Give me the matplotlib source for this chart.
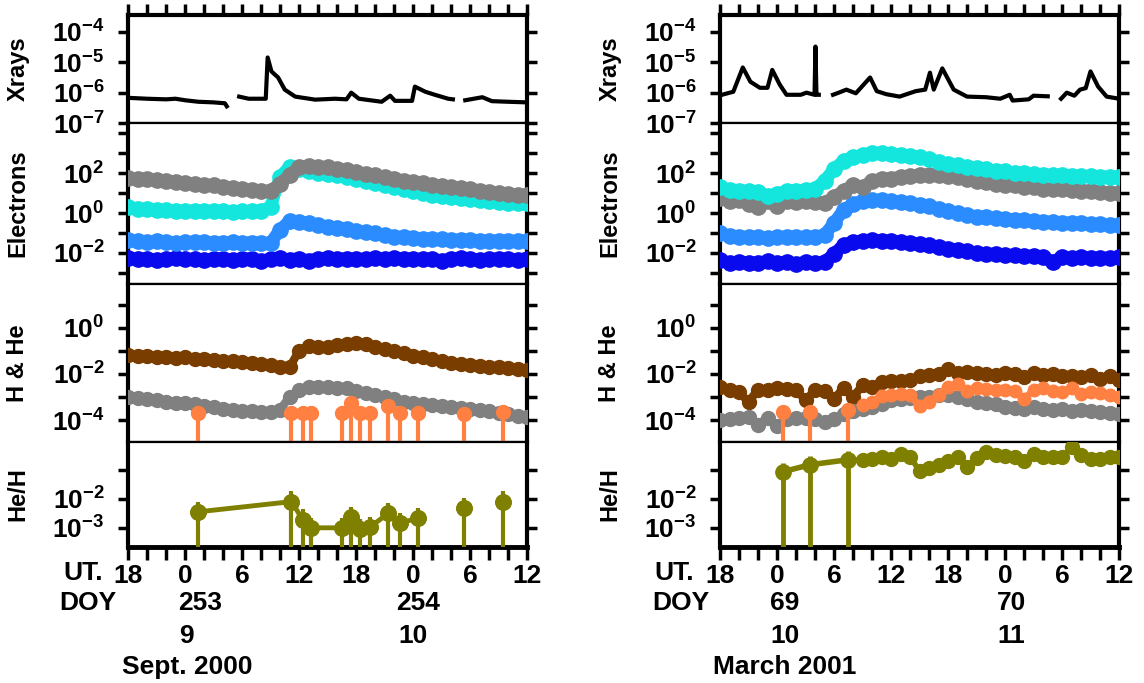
import numpy as np
import matplotlib
matplotlib.use("Agg")
import matplotlib.pyplot as plt
import matplotlib.transforms as mtrans

plt.rcParams['font.family'] = ['Liberation Sans', 'DejaVu Sans']
plt.rcParams['font.weight'] = 'bold'
plt.rcParams['mathtext.fontset'] = 'custom'
plt.rcParams['mathtext.rm'] = 'Liberation Sans:bold'
plt.rcParams['mathtext.it'] = 'Liberation Sans:bold'
plt.rcParams['mathtext.bf'] = 'Liberation Sans:bold'

# time axis: hours from 0 UT of the first DOY (18 UT previous day = -6)
HOURS = np.arange(-6, 37)

# ---------------- Sept. 2000 (left) ----------------
xr_L_t = [-6, -4, -2, -1, 0, 1.4, 3, 4.2, 4.4, np.nan, 5.7, 6.7, 8.5, 8.7, 9.1, 9.8, 10.5, 11.6, 13.7, 15.8,
          17.0, 17.5, 18.3, 20.7, 21.6, 22.1, 23.9, 24.2, 25.3, 26.3, 27.7, 28.2, np.nan, 29.5, 31.3, 32.3, 34, 36]
xr_L_v = [-6.17, -6.2, -6.22, -6.2, -6.25, -6.3, -6.32, -6.35, -6.45, np.nan, -6.13, -6.2, -6.2, -4.84, -5.3, -5.5,
          -5.9, -6.13, -6.23, -6.2, -6.22, -6.0, -6.2, -6.3, -6.1, -6.27, -6.27, -5.8, -5.97, -6.07, -6.2, -6.22,
          np.nan, -6.25, -6.15, -6.28, -6.3, -6.32]

el_gray_L = [1.75, 1.7, 1.72, 1.65, 1.62, 1.55, 1.52, 1.45, 1.42, 1.38, 1.3, 1.27, 1.2, 1.15, 1.08, 1.12, 1.45,
             1.9, 2.28, 2.35, 2.3, 2.28, 2.22, 2.15, 2.05, 1.97, 1.88, 1.8, 1.72, 1.62, 1.55, 1.48, 1.42, 1.36,
             1.3, 1.25, 1.2, 1.12, 1.06, 1.0, 0.95, 0.9, 0.92]
el_cyan_L = [0.3, 0.22, 0.18, 0.16, 0.13, 0.12, 0.1, 0.12, 0.1, 0.1, 0.08, 0.06, 0.08, 0.1, 0.1, 0.3, 1.8, 2.3,
             2.2, 2.1, 2.0, 1.95, 1.88, 1.8, 1.7, 1.6, 1.5, 1.4, 1.3, 1.2, 1.1, 1.0, 0.92, 0.86, 0.8, 0.75, 0.7,
             0.65, 0.6, 0.55, 0.5, 0.48, 0.52]
el_dblue_L = [-1.35, -1.42, -1.45, -1.42, -1.45, -1.48, -1.45, -1.47, -1.45, -1.5, -1.48, -1.47, -1.5, -1.48,
              -1.5, -1.5, -0.85, -0.4, -0.45, -0.52, -0.6, -0.68, -0.75, -0.8, -0.88, -0.95, -1.02, -1.1, -1.18,
              -1.22, -1.25, -1.28, -1.3, -1.32, -1.33, -1.35, -1.35, -1.38, -1.4, -1.38, -1.4, -1.4, -1.38]
el_blue_L = [-2.25, -2.3, -2.28, -2.35, -2.3, -2.27, -2.32, -2.3, -2.35, -2.28, -2.3, -2.36, -2.3, -2.28, -2.4,
             -2.3, -2.27, -2.33, -2.28, -2.38, -2.3, -2.25, -2.3, -2.28, -2.32, -2.3, -2.27, -2.3, -2.25, -2.3,
             -2.28, -2.32, -2.3, -2.38, -2.3, -2.27, -2.3, -2.35, -2.3, -2.28, -2.3, -2.33, -2.28]

h_brown_L = [-1.17, -1.22, -1.2, -1.25, -1.27, -1.3, -1.28, -1.33, -1.35, -1.4, -1.42, -1.45, -1.5, -1.52, -1.55,
             -1.62, -1.7, -1.72, -1.0, -0.78, -0.85, -0.82, -0.75, -0.68, -0.65, -0.72, -0.82, -0.92, -1.0, -1.1,
             -1.2, -1.25, -1.35, -1.45, -1.52, -1.58, -1.62, -1.65, -1.68, -1.72, -1.75, -1.8, -1.85]
h_gray_L = [-3.0, -3.05, -3.1, -3.15, -3.2, -3.25, -3.28, -3.32, -3.4, -3.45, -3.52, -3.55, -3.6, -3.62, -3.65,
            -3.65, -3.55, -3.0, -2.7, -2.56, -2.55, -2.58, -2.6, -2.62, -2.72, -2.82, -2.92, -3.0, -3.1, -3.2,
            -3.27, -3.3, -3.35, -3.4, -3.45, -3.48, -3.52, -3.58, -3.62, -3.68, -3.75, -3.82, -3.88]
he_L_t = [1.4, 11.2, 12.4, 13.3, 16.5, 17.5, 18.4, 19.5, 21.4, 22.6, 24.5, 29.4, 33.5]
he_L_v = [-3.7, -3.7, -3.7, -3.7, -3.7, -3.26, -3.7, -3.7, -3.4, -3.7, -3.7, -3.75, -3.65]
ratio_L_v = [-2.45, -2.1, -2.72, -3.0, -3.0, -2.62, -3.05, -2.97, -2.5, -2.85, -2.66, -2.32, -2.1]
ratio_L_seg = [0, 0, 0, 0, 0, 0, 0, 0, 0, 0, 0, 1, 2]

# ---------------- March 2001 (right) ----------------
xr_R_t = [-6, -5.8, -4.6, -3.6, -2.8, -1.8, -1.0, -0.5, 0.3, 1.0, 2.5, 3.1, 3.95, 4.05, 4.15, 4.4, np.nan, 5.9,
          6.5, 7.3, 8.3, 9.8, 10.5, 11.5, 12.9, 14.6, 15.6, 16.1, 16.5, 17.4, 18.6, 20, 22, 23.5, 24.5, 24.8,
          26.5, 27, 28.5, np.nan, 29.9, 30.5, 31.3, 31.9, 32.5, 33.0, 33.8, 34.7, 36]
xr_R_v = [-6.1, -6.07, -5.97, -5.17, -5.64, -5.84, -5.84, -5.25, -5.74, -6.07, -6.07, -6.0, -6.07, -4.48, -6.07,
          -6.07, np.nan, -6.07, -6.0, -5.9, -6.02, -5.5, -5.95, -6.05, -6.13, -5.95, -5.9, -5.34, -5.9, -5.2, -5.9,
          -6.13, -6.15, -6.2, -6.07, -6.26, -6.22, -6.1, -6.12, np.nan, -6.2, -6.0, -6.1, -5.9, -5.85, -5.3, -5.8,
          -6.13, -6.2]

el_cyan_R = [1.3, 1.15, 1.12, 1.1, 1.05, 0.85, 0.95, 1.1, 1.12, 1.15, 1.2, 1.6, 2.2, 2.6, 2.8, 2.9, 3.0, 3.0,
             2.95, 2.9, 2.85, 2.78, 2.7, 2.55, 2.45, 2.38, 2.3, 2.25, 2.18, 2.12, 2.08, 2.02, 1.98, 1.95, 1.92,
             1.9, 1.88, 1.86, 1.85, 1.83, 1.82, 1.8, 1.8]
el_gray_R = [0.75, 0.6, 0.65, 0.45, 0.3, 0.6, 0.35, 0.6, 0.55, 0.6, 0.55, 0.5, 0.8, 1.1, 1.4, 1.3, 1.6, 1.7,
             1.72, 1.8, 1.85, 1.88, 1.9, 1.9, 1.85, 1.8, 1.7, 1.6, 1.55, 1.45, 1.4, 1.38, 1.3, 1.28, 1.22, 1.2,
             1.18, 1.15, 1.1, 1.1, 1.05, 1.0, 0.98]
el_dblue_R = [-1.0, -1.15, -1.2, -1.2, -1.22, -1.25, -1.2, -1.2, -1.2, -1.22, -1.2, -1.1, -0.5, 0.15, 0.45, 0.6,
              0.65, 0.65, 0.6, 0.55, 0.5, 0.42, 0.35, 0.2, 0.1, 0.0, -0.1, -0.18, -0.22, -0.27, -0.3, -0.33,
              -0.37, -0.4, -0.43, -0.45, -0.48, -0.5, -0.52, -0.55, -0.57, -0.6, -0.6]
el_blue_R = [-2.35, -2.5, -2.45, -2.5, -2.48, -2.42, -2.5, -2.45, -2.55, -2.45, -2.5, -2.45, -2.05, -1.6, -1.45,
             -1.38, -1.35, -1.38, -1.4, -1.45, -1.48, -1.55, -1.6, -1.7, -1.78, -1.85, -1.9, -2.0, -2.05, -2.05,
             -2.1, -2.12, -2.15, -2.15, -2.2, -2.45, -2.2, -2.25, -2.22, -2.25, -2.25, -2.25, -2.2]

h_brown_R = [-2.55, -2.7, -2.8, -3.2, -2.7, -2.68, -2.62, -2.65, -2.68, -3.15, -2.7, -2.75, -3.1, -2.6, -3.0,
             -2.5, -2.55, -2.35, -2.3, -2.32, -2.25, -2.1, -2.05, -2.0, -1.78, -1.95, -1.92, -1.95, -2.02, -2.05,
             -1.98, -2.0, -2.15, -1.95, -2.05, -2.0, -2.1, -2.08, -2.12, -2.05, -2.2, -2.1, -2.25]
h_gray_R = [-4.0, -3.95, -3.9, -3.88, -4.2, -3.9, -4.25, -3.95, -3.9, -3.92, -3.95, -4.1, -3.95, -3.75, -3.6,
            -3.5, -3.45, -3.3, -3.15, -3.1, -3.05, -3.0, -2.98, -2.92, -2.9, -3.0, -3.1, -3.2, -3.25, -3.32,
            -3.45, -3.48, -3.5, -3.45, -3.5, -3.55, -3.52, -3.6, -3.58, -3.62, -3.65, -3.7, -3.75]
he_R_t = [0.65, 3.5, 7.5, 9, 10, 11, 12, 13, 14, 15, 16, 17, 18, 19, 20, 21, 22, 23, 24, 25, 26, 27, 28, 29, 30,
          31, 32, 33, 34, 35, 36]
he_R_v = [-3.65, -3.65, -3.57, -3.35, -3.2, -2.95, -2.9, -2.88, -2.9, -3.4, -3.2, -2.9, -2.55, -2.45, -2.75, -2.6,
          -2.65, -2.7, -2.68, -2.72, -3.1, -2.7, -2.62, -2.75, -2.78, -2.6, -2.85, -2.8, -2.82, -2.9, -3.0]
he_R_seg = [0, 1, 2] + [3] * 28
ratio_R_v = [-1.07, -0.83, -0.66, -0.68, -0.65, -0.58, -0.62, -0.45, -0.55, -1.05, -0.95, -0.85, -0.72, -0.55,
             -0.9, -0.6, -0.4, -0.5, -0.52, -0.55, -0.7, -0.45, -0.55, -0.58, -0.58, -0.22, -0.5, -0.65, -0.62,
             -0.58, -0.55]

ut_labels = ['18', '0', '6', '12', '18', '0', '6', '12']

C_CYAN = '#14E6DE'
C_DBLUE = '#2B8CFF'
C_BLUE = '#0A0AEE'
C_GRAY = '#808080'
C_BROWN = '#7A3D00'
C_ORANGE = '#FF8040'
C_OLIVE = '#808000'

W, H = 1144, 683
fig = plt.figure(figsize=(W / 100, H / 100), dpi=100)

ROWS = [(15, 123), (123, 284), (284, 442), (442, 547)]
YLIM = [(-7.0, -3.44), (-3.55, 4.5), (-4.95, 1.9), (-3.66, -0.05)]
YTICKS = [[-7, -6, -5, -4], list(range(-3, 5)), list(range(-4, 2)), [-3, -2, -1]]
YLABELED = [[-7, -6, -5, -4], [-2, 0, 2], [-4, -2, 0], [-3, -2]]
YNAMES = ['Xrays', 'Electrons', 'H & He', 'He/H']
FS = 19


def fx(px):
    return px / W


def fy(py):
    return 1 - py / H


def make_panel(x0, x1, ylab_x):
    axes = []
    for i, (t, b) in enumerate(ROWS):
        ax = fig.add_axes([fx(x0), fy(b), fx(x1 - x0), (b - t) / H])
        ax.set_yscale('log')
        ax.set_ylim(10.0 ** YLIM[i][0], 10.0 ** YLIM[i][1])
        ax.set_xlim(-6, 36)
        ax.set_yticks([10.0 ** k for k in YTICKS[i]])
        ax.set_yticklabels([(r'$10^{%d}$' % k) if k in YLABELED[i] else '' for k in YTICKS[i]])
        ax.minorticks_off()
        ax.tick_params(axis='y', which='both', direction='out', length=7, width=2.5,
                       left=True, right=True, labelsize=FS, pad=10)
        ax.set_xticks([-6, 0, 6, 12, 18, 24, 30, 36])
        ax.set_xticks(list(range(-6, 37, 2)), minor=True)
        for s in ax.spines.values():
            s.set_linewidth(1.6)
        ax.spines['left'].set_linewidth(3)
        ax.spines['right'].set_linewidth(3)
        if i == 0:
            ax.spines['top'].set_linewidth(3)
            ax.tick_params(axis='x', which='both', direction='out', length=8, width=2.5,
                           top=True, bottom=False, labelbottom=False)
        elif i == 3:
            ax.spines['bottom'].set_linewidth(3.5)
            ax.set_xticklabels(ut_labels)
            ax.tick_params(axis='x', which='both', direction='out', length=9, width=2.5,
                           top=False, bottom=True, labelsize=FS, pad=3)
        else:
            ax.tick_params(axis='x', which='both', bottom=False, top=False, labelbottom=False)
        fig.text(fx(ylab_x), fy((t + b) / 2), YNAMES[i], rotation=90, ha='center', va='center',
                 fontsize=17, fontweight='bold')
        axes.append(ax)
    return axes


def band(ax, logv, color, lw, ms, t=HOURS):
    ax.plot(t, 10.0 ** np.asarray(logv, dtype=float), '-', color=color, lw=lw, marker='o', ms=ms,
            mec=color, solid_capstyle='round', solid_joinstyle='round', zorder=3)


def bars(ax, t, logv, color, floor, up, ms, lw=2.5):
    v = 10.0 ** np.asarray(logv, dtype=float)
    ax.vlines(t, 10.0 ** floor, v * 10.0 ** up, color=color, lw=lw, zorder=4)
    ax.plot(t, v, 'o', color=color, ms=ms, zorder=5)


def joined(ax, t, logv, seg, color, lw, ms, err=0.0):
    t = np.asarray(t, dtype=float)
    v = 10.0 ** np.asarray(logv, dtype=float)
    seg = np.asarray(seg)
    if err:
        ax.vlines(t, v * 10.0 ** -err, v * 10.0 ** err, color=color, lw=2.5, zorder=4)
    for s in np.unique(seg):
        m = seg == s
        ax.plot(t[m], v[m], '-', color=color, lw=lw, marker='o', ms=ms, zorder=5)


# left panel
axL = make_panel(128, 527, 18)
axL[0].plot(xr_L_t, 10.0 ** np.asarray(xr_L_v), color='black', lw=3)
band(axL[1], el_blue_L, C_BLUE, 9, 11)
band(axL[1], el_dblue_L, C_DBLUE, 9, 11)
band(axL[1], el_cyan_L, C_CYAN, 9, 11)
band(axL[1], el_gray_L, C_GRAY, 9, 11)
band(axL[2], h_brown_L, C_BROWN, 6, 10)
band(axL[2], h_gray_L, C_GRAY, 6, 10)
bars(axL[2], he_L_t, he_L_v, C_ORANGE, -6, 0.3, 10, lw=3)
bars(axL[3], he_L_t, ratio_L_v, C_OLIVE, -4, 0.35, 11, lw=3)
joined(axL[3], he_L_t, ratio_L_v, ratio_L_seg, C_OLIVE, 3.5, 11)

# right panel
axR = make_panel(720, 1119, 610)
axR[0].plot(xr_R_t, 10.0 ** np.asarray(xr_R_v), color='black', lw=3)
band(axR[1], el_blue_R, C_BLUE, 9, 11)
band(axR[1], el_dblue_R, C_DBLUE, 9, 11)
band(axR[1], el_gray_R, C_GRAY, 9, 11)
band(axR[1], el_cyan_R, C_CYAN, 9, 11)
band(axR[2], h_brown_R, C_BROWN, 6, 10)
band(axR[2], h_gray_R, C_GRAY, 6, 10)
bars(axR[2], he_R_t[:3], he_R_v[:3], C_ORANGE, -6, 0.25, 10, lw=3)
joined(axR[2], he_R_t, he_R_v, he_R_seg, C_ORANGE, 5, 9, err=0.15)
bars(axR[3], he_R_t[:3], ratio_R_v[:3], C_OLIVE, -4, 0.3, 11, lw=3.5)
joined(axR[3], he_R_t, ratio_R_v, [0] * len(ratio_R_v), C_OLIVE, 4, 10, err=0.2)

# bottom annotations
txt = dict(fontsize=FS, fontweight='bold', va='center')
for ax, ut_x, doy_x, days, day_pos, month, mx in [
        (axL[3], 83, 88, ('253', '254'), (1.6, 24.5), 'Sept. 2000', 122),
        (axR[3], 674, 681, ('69', '70'), (0.8, 24.7), 'March 2001', 713)]:
    fig.text(fx(ut_x), fy(573), 'UT.', ha='center', **txt)
    fig.text(fx(doy_x), fy(603), 'DOY', ha='center', **txt)
    tr = mtrans.blended_transform_factory(ax.transData, fig.transFigure)
    ax.text(day_pos[0], fy(603), days[0], ha='center', transform=tr, **txt)
    ax.text(day_pos[1], fy(603), days[1], ha='center', transform=tr, **txt)
    fig.text(fx(mx), fy(667), month, ha='left', **txt)

trL = mtrans.blended_transform_factory(axL[3].transData, fig.transFigure)
axL[3].text(0.2, fy(636), '9', ha='center', transform=trL, **txt)
axL[3].text(24.0, fy(636), '10', ha='center', transform=trL, **txt)
trR = mtrans.blended_transform_factory(axR[3].transData, fig.transFigure)
axR[3].text(0.8, fy(636), '10', ha='center', transform=trR, **txt)
axR[3].text(24.7, fy(636), '11', ha='center', transform=trR, **txt)

fig.savefig('out.png', dpi=100)
